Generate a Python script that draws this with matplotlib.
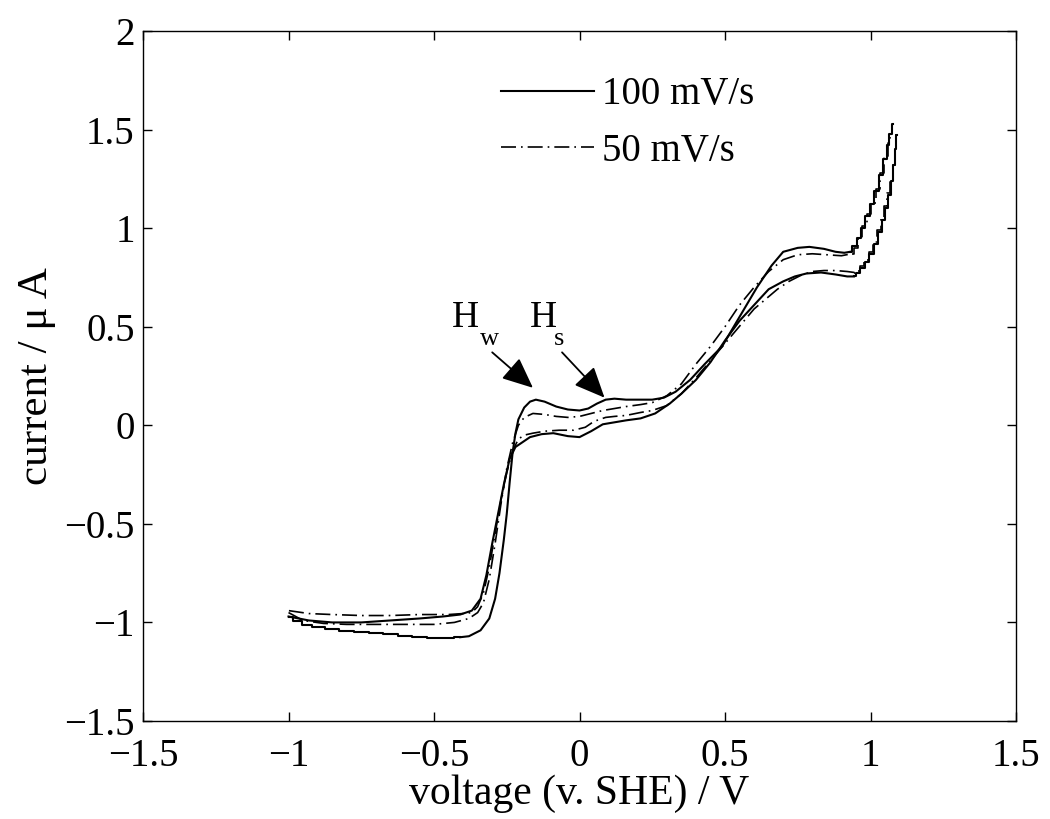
"""Cyclic voltammogram at two scan rates, MATLAB-style figure."""
import matplotlib

matplotlib.use("Agg")
import matplotlib.pyplot as plt

plt.rcParams["font.family"] = ["Liberation Serif", "DejaVu Serif"]

# ---- 100 mV/s (solid) ----
# forward scan, stepped low plateau at the left
fast_bl_x = [-1.00, -0.97, -0.94, -0.90, -0.85, -0.80, -0.75, -0.70, -0.65, -0.60, -0.55, -0.50, -0.45, -0.41]
fast_bl_y = [-0.97, -0.995, -1.015, -1.025, -1.035, -1.045, -1.05, -1.055, -1.06, -1.07, -1.075, -1.08, -1.08, -1.075]
# forward scan, smooth part
fast_fwd_x = [-0.41, -0.38, -0.34, -0.31, -0.29, -0.275, -0.26, -0.25, -0.24, -0.23, -0.22, -0.21,
              -0.19, -0.17, -0.15, -0.12, -0.08, -0.04, 0.00, 0.03, 0.06, 0.09, 0.12, 0.16, 0.20,
              0.25, 0.29, 0.33, 0.38, 0.43, 0.49, 0.55, 0.61, 0.66, 0.70, 0.75, 0.79, 0.84, 0.88,
              0.91, 0.93]
fast_fwd_y = [-1.075, -1.07, -1.04, -0.98, -0.88, -0.75, -0.58, -0.45, -0.29, -0.14, -0.04, 0.03,
              0.09, 0.12, 0.13, 0.12, 0.095, 0.08, 0.075, 0.085, 0.11, 0.13, 0.135, 0.13, 0.13,
              0.13, 0.14, 0.17, 0.23, 0.31, 0.40, 0.55, 0.70, 0.81, 0.88, 0.90, 0.905, 0.895, 0.88,
              0.875, 0.88]
# forward scan, stepped rise at the right
fast_fr_x = [0.93, 0.945, 0.96, 0.975, 0.99, 1.005, 1.02, 1.035, 1.05, 1.06, 1.07, 1.077]
fast_fr_y = [0.88, 0.91, 0.95, 1.00, 1.06, 1.12, 1.19, 1.27, 1.35, 1.42, 1.48, 1.53]
# reverse scan, stepped fall at the right
fast_rr_x = [1.09, 1.088, 1.083, 1.075, 1.066, 1.056, 1.045, 1.032, 1.018, 1.003, 0.988, 0.972, 0.957, 0.943]
fast_rr_y = [1.47, 1.40, 1.32, 1.24, 1.17, 1.10, 1.04, 0.98, 0.92, 0.87, 0.83, 0.80, 0.77, 0.755]
# reverse scan, smooth part
fast_rev_x = [0.943, 0.92, 0.88, 0.83, 0.78, 0.74, 0.70, 0.65, 0.60, 0.55, 0.50, 0.45, 0.40, 0.35,
              0.31, 0.26, 0.21, 0.16, 0.12, 0.08, 0.04, 0.00, -0.04, -0.09, -0.13, -0.17, -0.20,
              -0.22, -0.24, -0.26, -0.28, -0.30, -0.32, -0.34, -0.37, -0.41, -0.47, -0.55, -0.65,
              -0.75, -0.85, -0.93, -1.00]
fast_rev_y = [0.755, 0.755, 0.765, 0.775, 0.77, 0.755, 0.73, 0.69, 0.61, 0.53, 0.43, 0.32, 0.23, 0.16,
              0.11, 0.06, 0.035, 0.025, 0.015, 0.005, -0.03, -0.06, -0.055, -0.04, -0.045, -0.06, -0.09,
              -0.11, -0.17, -0.30, -0.45, -0.60, -0.76, -0.88, -0.94, -0.96, -0.97, -0.98, -0.99,
              -1.00, -1.00, -0.99, -0.97]

# ---- 50 mV/s (dash-dot) ----
slow_fwd_x = [-1.00, -0.95, -0.88, -0.80, -0.70, -0.60, -0.50, -0.43, -0.38, -0.35, -0.33, -0.31,
              -0.29, -0.27, -0.25, -0.23, -0.21, -0.19, -0.16, -0.12, -0.08, -0.04, 0.00, 0.04, 0.08,
              0.12, 0.16, 0.21, 0.25, 0.30, 0.35, 0.40, 0.45, 0.50, 0.55, 0.60, 0.65, 0.70, 0.75,
              0.80, 0.85, 0.90, 0.935]
slow_fwd_y = [-0.95, -0.99, -1.005, -1.01, -1.01, -1.01, -1.01, -1.0, -0.98, -0.95, -0.90, -0.78,
              -0.60, -0.40, -0.22, -0.09, 0.0, 0.04, 0.06, 0.055, 0.045, 0.04, 0.045, 0.06, 0.075,
              0.085, 0.095, 0.105, 0.115, 0.15, 0.21, 0.31, 0.40, 0.50, 0.61, 0.70, 0.78, 0.84, 0.865,
              0.87, 0.865, 0.86, 0.87]
slow_fr_x = [0.935, 0.95, 0.965, 0.98, 0.995, 1.01, 1.025, 1.04, 1.055, 1.065, 1.072, 1.078]
slow_fr_y = [0.87, 0.90, 0.95, 1.01, 1.07, 1.13, 1.20, 1.28, 1.36, 1.43, 1.48, 1.52]
slow_rr_x = [1.088, 1.086, 1.08, 1.072, 1.063, 1.053, 1.042, 1.03, 1.016, 1.001, 0.986, 0.97, 0.955, 0.945]
slow_rr_y = [1.48, 1.40, 1.32, 1.25, 1.18, 1.11, 1.05, 0.99, 0.93, 0.88, 0.84, 0.81, 0.785, 0.775]
slow_rev_x = [0.945, 0.92, 0.88, 0.84, 0.80, 0.76, 0.72, 0.68, 0.64, 0.60, 0.56, 0.52, 0.48, 0.44,
              0.40, 0.35, 0.30, 0.25, 0.21, 0.16, 0.12, 0.09, 0.05, 0.02, -0.02, -0.07, -0.12, -0.16,
              -0.19, -0.21, -0.23, -0.25, -0.27, -0.29, -0.31, -0.33, -0.35, -0.37, -0.40, -0.45,
              -0.55, -0.65, -0.75, -0.85, -0.93, -1.00]
slow_rev_y = [0.775, 0.78, 0.785, 0.785, 0.78, 0.76, 0.73, 0.69, 0.64, 0.59, 0.52, 0.45, 0.38, 0.31,
              0.24, 0.16, 0.10, 0.075, 0.065, 0.05, 0.045, 0.04, 0.02, -0.01, -0.025, -0.025, -0.03, -0.04,
              -0.05, -0.07, -0.13, -0.24, -0.38, -0.55, -0.72, -0.85, -0.92, -0.95, -0.955, -0.96,
              -0.96, -0.965, -0.965, -0.96, -0.955, -0.94]

series_labels = ["100 mV/s", "50 mV/s"]
# peak markers: main letter, subscript, and arrow from label to peak
peak_main = ["H", "H"]
peak_sub = ["w", "s"]
peak_text_xy = [(-0.437, 0.50), (-0.172, 0.50)]
peak_sub_xy = [(-0.343, 0.405), (-0.088, 0.405)]
peak_tip_xy = [(-0.16, 0.19), (0.086, 0.14)]
peak_tail_xy = [(-0.30, 0.37), (-0.06, 0.37)]

x_ticks = [-1.5, -1, -0.5, 0, 0.5, 1, 1.5]
y_ticks = [-1.5, -1, -0.5, 0, 0.5, 1, 1.5, 2]

fig = plt.figure(figsize=(10.5, 8.19), dpi=100)
ax = fig.add_axes([143 / 1050, 1 - 721 / 819, 873 / 1050, 690 / 819])

solid = dict(color="black", lw=1.5, linestyle="-")
dashdot = dict(color="black", lw=1.2, linestyle=(0, (9, 3, 1, 3)))

ax.plot(fast_bl_x, fast_bl_y, drawstyle="steps-mid", **solid)
ax.plot(fast_fwd_x, fast_fwd_y, label=series_labels[0], **solid)
ax.plot(fast_fr_x, fast_fr_y, drawstyle="steps-mid", **solid)
ax.plot(fast_rr_x, fast_rr_y, drawstyle="steps-mid", **solid)
ax.plot(fast_rev_x, fast_rev_y, **solid)

ax.plot(slow_fwd_x, slow_fwd_y, label=series_labels[1], **dashdot)
ax.plot(slow_fr_x, slow_fr_y, drawstyle="steps-mid", **dashdot)
ax.plot(slow_rr_x, slow_rr_y, drawstyle="steps-mid", **dashdot)
ax.plot(slow_rev_x, slow_rev_y, **dashdot)

for main, sub, txt_xy, sub_xy, tail, tip in zip(peak_main, peak_sub, peak_text_xy,
                                                 peak_sub_xy, peak_tail_xy, peak_tip_xy):
    ax.text(txt_xy[0], txt_xy[1], main, fontsize=27, ha="left", va="baseline")
    ax.text(sub_xy[0], sub_xy[1], sub, fontsize=19, ha="left", va="baseline")
    ax.annotate("", xy=tip, xytext=tail,
                arrowprops=dict(arrowstyle="-|>,head_length=0.95,head_width=0.42",
                                mutation_scale=20, color="black", lw=1.3,
                                shrinkA=0, shrinkB=0))

ax.set_xlim(-1.5, 1.5)
ax.set_ylim(-1.5, 2)
ax.set_xticks(x_ticks)
ax.set_yticks(y_ticks)
ax.set_xticklabels([f"{t:g}".replace("-", "\u2212") for t in x_ticks])
ax.set_yticklabels([f"{t:g}".replace("-", "\u2212") for t in y_ticks])
ax.tick_params(direction="in", length=6.5, width=1.0, labelsize=28, top=True, right=True)
ax.tick_params(axis="x", pad=12)
ax.tick_params(axis="y", pad=6)
for spine in ax.spines.values():
    spine.set_linewidth(1.0)

ax.set_xlabel("voltage (v. SHE) / V", fontsize=30, labelpad=0)
ax.set_ylabel("current / \u03bc A", fontsize=31, labelpad=6)

ax.legend(loc="upper left", bbox_to_anchor=(0.37, 0.985), frameon=False, fontsize=28,
          handlelength=2.4, handletextpad=0.2, labelspacing=0.5)

fig.savefig("out.png", dpi=100)
